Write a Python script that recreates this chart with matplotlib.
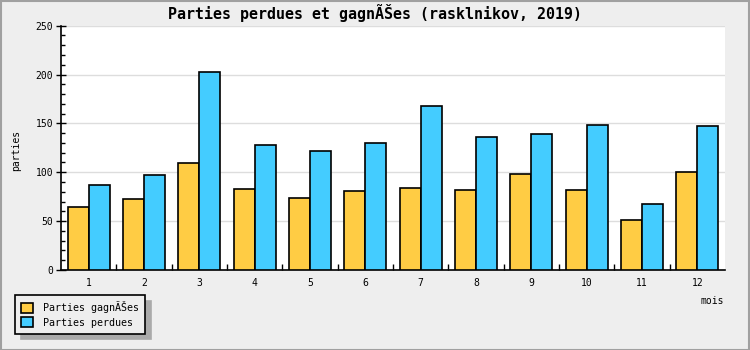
import matplotlib
matplotlib.use("Agg")
import matplotlib.pyplot as plt
from matplotlib.patches import Rectangle
from matplotlib.ticker import MultipleLocator, FixedLocator
import numpy as np

months = ["1", "2", "3", "4", "5", "6", "7", "8", "9", "10", "11", "12"]
gagnees = [64, 73, 109, 83, 74, 81, 84, 82, 98, 82, 51, 100]
perdues = [87, 97, 203, 128, 122, 130, 168, 136, 139, 148, 68, 147]

plt.rcParams['font.family'] = ['DejaVu Sans Mono']

fig = plt.figure(figsize=(7.5, 3.5), dpi=100, facecolor='#EEEEEE')
fig.patches.append(Rectangle((0.0007, 0.001), 0.998, 0.997, transform=fig.transFigure,
                             fill=False, edgecolor='#A0A0A0', linewidth=1.5))
ax = fig.add_axes([0.0813, 0.2286, 0.8853, 0.698])
ax.set_facecolor('white')

x = np.arange(len(months))
w = 0.38
b1 = ax.bar(x - w / 2, gagnees, w, color='#FFCC44', edgecolor='black', linewidth=1.2,
            label='Parties gagnÃŠes', zorder=3)
b2 = ax.bar(x + w / 2, perdues, w, color='#44CCFF', edgecolor='black', linewidth=1.2,
            label='Parties perdues', zorder=3)

ax.set_xlim(-0.5, len(months) - 0.5)
ax.set_ylim(0, 250)
ax.set_xticks(x)
ax.set_xticklabels(months, fontsize=7)
ax.xaxis.set_minor_locator(FixedLocator(np.arange(0.5, len(months) - 0.5, 1)))
ax.tick_params(axis='x', which='major', length=0, pad=6)
ax.tick_params(axis='x', which='minor', direction='in', length=4, width=1)

ax.yaxis.set_major_locator(MultipleLocator(50))
ax.yaxis.set_minor_locator(MultipleLocator(10))
ax.tick_params(axis='y', which='major', direction='inout', length=7, width=1, labelsize=7, pad=2)
ax.tick_params(axis='y', which='minor', direction='in', length=3, width=1)

ax.grid(axis='y', which='major', color='#DDDDDD', linewidth=1, zorder=0)
for s in ['top', 'right']:
    ax.spines[s].set_visible(False)
for s in ['left', 'bottom']:
    ax.spines[s].set_linewidth(1.2)

fig.text(0.5, 0.963, 'Parties perdues et gagnÃŠes (rasklnikov, 2019)', ha='center', va='center',
         fontsize=10.8, fontweight='bold')
fig.text(0.021, 0.57, 'parties', rotation=90, ha='center', va='center', fontsize=7)
fig.text(0.95, 0.14, 'mois', ha='center', va='center', fontsize=7)

leg = fig.legend(handles=[b1, b2], loc='upper left', bbox_to_anchor=(0.02, 0.157),
                 borderaxespad=0, fontsize=7.2, frameon=True, fancybox=False,
                 edgecolor='black', facecolor='#EEEEEE', framealpha=1,
                 handlelength=1.2, handleheight=1.2, handletextpad=1.0,
                 borderpad=0.6, labelspacing=0.4,
                 shadow={'color': '#AAAAAA', 'alpha': 1, 'ox': 4, 'oy': -4})
leg.get_frame().set_linewidth(1.2)

fig.savefig('out.png', dpi=100, facecolor=fig.get_facecolor())
